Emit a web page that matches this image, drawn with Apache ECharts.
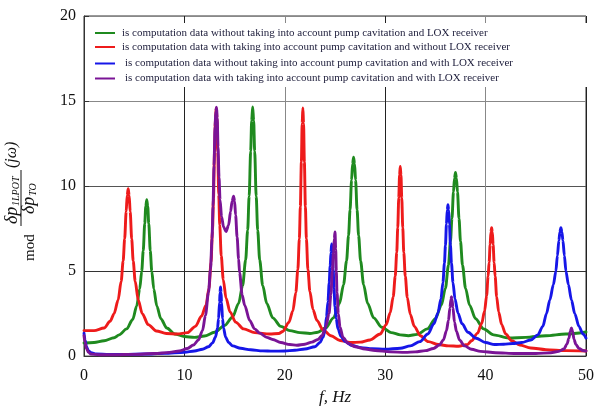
<!DOCTYPE html>
<html>
<head>
<meta charset="utf-8">
<script src="https://cdn.jsdelivr.net/npm/echarts@6/dist/echarts.min.js"></script>
<style>
  html, body { margin: 0; padding: 0; background: #ffffff; }
  #chart { width: 597px; height: 411px; }
</style>
</head>
<body>
<div id="chart"></div>
<script>
// Frequency response magnitudes, points given as [f (Hz), modulus]
const greenPts = [[0,0.77],[1,0.8],[2,0.9],[3,1.08],[3.5,1.25],[4.25,1.6],[4.85,2.15],[5.25,2.95],[5.55,3.95],[5.75,5.0],[5.9,6.2],[6.05,7.8],[6.15,8.8],[6.25,9.2],[6.35,8.8],[6.45,7.8],[6.6,6.2],[6.75,5.0],[6.95,3.95],[7.25,2.95],[7.65,2.2],[8.25,1.65],[9.05,1.3],[10,1.15],[11,1.1],[12,1.18],[13,1.4],[14,1.8],[14.8,2.3],[15.4,3.1],[15.8,4.15],[16.1,5.65],[16.3,7.4],[16.45,9.4],[16.6,12.05],[16.7,13.85],[16.8,14.65],[16.9,13.85],[17.0,12.05],[17.15,9.4],[17.3,7.4],[17.5,5.65],[17.8,4.15],[18.2,3.1],[18.8,2.25],[19.6,1.75],[20.5,1.5],[21.5,1.38],[22.5,1.33],[23.3,1.4],[24.05,1.65],[24.85,2.25],[25.45,3.1],[25.85,4.2],[26.15,5.6],[26.35,7.1],[26.5,8.6],[26.65,10.35],[26.75,11.3],[26.85,11.7],[26.95,11.3],[27.05,10.35],[27.2,8.6],[27.35,7.1],[27.55,5.6],[27.85,4.2],[28.25,3.1],[28.85,2.25],[29.65,1.7],[30.6,1.38],[31.5,1.25],[32.3,1.2],[33.2,1.28],[34.2,1.6],[35.0,2.2],[35.6,3.0],[36.0,4.0],[36.3,5.35],[36.5,6.75],[36.65,8.1],[36.8,9.65],[36.9,10.45],[37.0,10.8],[37.1,10.45],[37.2,9.65],[37.35,8.1],[37.5,6.75],[37.7,5.35],[38.0,4.0],[38.4,3.0],[39.0,2.2],[39.8,1.6],[40.8,1.25],[42.3,1.06],[44,1.1],[46,1.2],[48,1.3],[50,1.42]];

const redPts = [[0,1.5],[1,1.5],[2,1.65],[2.6,2.05],[3.0,2.5],[3.4,3.3],[3.7,4.4],[3.9,5.6],[4.05,6.9],[4.2,8.5],[4.3,9.45],[4.4,9.84],[4.5,9.45],[4.6,8.5],[4.75,6.9],[4.9,5.6],[5.1,4.4],[5.4,3.3],[5.8,2.5],[6.4,1.85],[7.2,1.48],[8.2,1.33],[9.3,1.3],[10.3,1.38],[11.1,1.75],[11.7,2.35],[12.15,3.0],[12.45,4.0],[12.65,5.5],[12.8,7.4],[12.9,9.3],[13.0,12.0],[13.1,14.0],[13.17,14.6],[13.24,14.0],[13.32,12.0],[13.42,9.5],[13.52,7.7],[13.67,5.9],[13.87,4.5],[14.15,3.4],[14.55,2.6],[15.1,2.0],[15.9,1.6],[17,1.38],[18.5,1.3],[19.4,1.33],[19.8,1.45],[20.4,1.98],[20.8,2.65],[21.1,3.75],[21.3,5.1],[21.45,6.9],[21.55,8.8],[21.65,11.4],[21.73,13.7],[21.8,14.6],[21.87,13.7],[21.95,11.4],[22.05,8.8],[22.15,6.9],[22.3,5.1],[22.5,3.8],[22.8,2.75],[23.2,2.1],[23.8,1.55],[24.6,1.2],[25.5,0.92],[26.5,0.8],[27.5,0.82],[28.5,0.95],[29.5,1.3],[30.1,1.85],[30.5,2.55],[30.8,3.5],[31.0,4.7],[31.15,6.1],[31.25,7.55],[31.35,9.3],[31.43,10.65],[31.5,11.15],[31.57,10.65],[31.65,9.3],[31.75,7.55],[31.85,6.1],[32.0,4.7],[32.2,3.45],[32.5,2.45],[32.9,1.75],[33.5,1.2],[34.3,0.85],[35.3,0.68],[36.3,0.6],[37.3,0.58],[38.2,0.68],[38.6,0.9],[39.2,1.35],[39.6,1.9],[39.9,2.65],[40.1,3.55],[40.25,4.7],[40.35,5.5],[40.45,6.55],[40.53,7.3],[40.6,7.55],[40.67,7.3],[40.75,6.55],[40.85,5.5],[40.95,4.7],[41.1,3.5],[41.3,2.6],[41.6,1.85],[42.0,1.3],[42.6,0.9],[43.4,0.65],[44.5,0.48],[46,0.38],[48,0.32],[50,0.3]];

const bluePts = [[0,1.35],[0.1,0.95],[0.25,0.55],[0.45,0.3],[0.7,0.2],[1.2,0.13],[2.5,0.1],[4,0.1],[6,0.12],[8,0.16],[10,0.23],[11,0.3],[11.8,0.4],[12.4,0.55],[12.8,0.78],[13.1,1.12],[13.3,1.65],[13.4,2.2],[13.5,3.15],[13.55,3.75],[13.6,4.07],[13.65,3.75],[13.7,3.15],[13.8,2.2],[13.9,1.65],[14.1,1.12],[14.4,0.8],[14.8,0.6],[15.6,0.46],[16.6,0.37],[17.8,0.31],[18.8,0.29],[20,0.3],[21,0.34],[22,0.42],[23,0.55],[23.5,0.8],[23.8,1.1],[24.0,1.5],[24.15,2.3],[24.3,3.2],[24.42,4.3],[24.52,5.3],[24.6,6.1],[24.67,6.59],[24.74,6.1],[24.82,5.1],[24.9,4.0],[25.0,2.9],[25.12,2.2],[25.3,1.6],[25.6,1.15],[26.0,0.85],[26.7,0.62],[27.6,0.5],[28.7,0.43],[30,0.4],[31.5,0.46],[32.5,0.6],[33.45,0.85],[34.25,1.3],[34.85,1.9],[35.25,2.53],[35.55,3.36],[35.75,4.33],[35.9,5.47],[36.0,6.5],[36.1,7.76],[36.18,8.6],[36.25,8.9],[36.32,8.6],[36.4,7.76],[36.5,6.5],[36.6,5.47],[36.75,4.33],[36.95,3.36],[37.25,2.53],[37.65,1.9],[38.25,1.4],[39.05,1.05],[40,0.8],[40.9,0.68],[41.8,0.7],[42.7,0.74],[43.6,0.8],[44.5,0.95],[45.2,1.25],[45.7,1.75],[46.06,2.5],[46.4,3.3],[46.75,4.2],[47.0,5.0],[47.15,5.9],[47.3,6.8],[47.4,7.3],[47.5,7.55],[47.6,7.3],[47.7,6.8],[47.85,5.9],[48.0,5.0],[48.25,4.2],[48.55,3.3],[48.88,2.5],[49.3,1.75],[49.7,1.3],[50,1.06]];

const purplePts = [[0,1.2],[0.1,0.8],[0.25,0.45],[0.45,0.22],[0.7,0.12],[1.5,0.08],[3,0.08],[5,0.1],[7,0.15],[8.5,0.22],[9.5,0.3],[10.3,0.45],[10.9,0.65],[11.4,0.95],[11.8,1.5],[12.1,2.4],[12.4,3.75],[12.6,5.1],[12.75,6.9],[12.85,8.8],[12.95,11.2],[13.05,13.5],[13.13,14.4],[13.2,14.63],[13.27,14.0],[13.35,12.3],[13.45,10.5],[13.55,9.2],[13.7,8.2],[13.9,7.6],[14.15,7.33],[14.4,7.7],[14.6,8.5],[14.75,9.1],[14.9,9.4],[15.0,9.1],[15.1,8.3],[15.25,7.0],[15.4,5.7],[15.5,4.9],[15.75,3.6],[16.0,3.0],[16.5,2.1],[17.0,1.6],[17.5,1.35],[18.2,1.1],[18.8,0.98],[19.6,0.8],[20.5,0.68],[21.2,0.64],[22,0.7],[22.7,0.82],[23.3,0.98],[23.7,1.2],[24.1,1.75],[24.4,2.5],[24.6,3.65],[24.73,5.0],[24.85,6.1],[24.93,6.9],[25.0,7.3],[25.07,6.3],[25.13,5.0],[25.2,3.75],[25.33,2.5],[25.5,1.7],[25.8,1.1],[26.3,0.75],[27,0.55],[28,0.42],[29,0.33],[30.5,0.25],[32,0.22],[33,0.25],[34,0.32],[34.8,0.45],[35.4,0.65],[35.8,0.95],[36.1,1.5],[36.3,2.1],[36.45,2.85],[36.55,3.35],[36.6,3.5],[36.65,3.35],[36.75,2.85],[36.9,2.0],[37.1,1.45],[37.4,0.95],[37.9,0.6],[38.6,0.4],[39.5,0.28],[41,0.2],[43,0.15],[45,0.15],[46.5,0.2],[47.3,0.28],[47.8,0.42],[48.1,0.7],[48.3,1.05],[48.43,1.45],[48.55,1.65],[48.67,1.45],[48.8,1.0],[49.0,0.68],[49.3,0.45],[49.7,0.33],[50,0.3]];

const seriesNames = [
  'is computation data without taking into account pump cavitation and LOX receiver',
  'is computation data with taking into account pump cavitation and without LOX receiver',
  'is computation data without taking into account pump cavitation and with LOX receiver',
  'is computation data with taking into account pump cavitation and with LOX receiver'
];
const seriesColors = ['#1f8a1f', '#ee1b1b', '#1616e8', '#7a1496'];
const seriesData = [greenPts, redPts, bluePts, purplePts];

const xRange = [0, 50, 10];
const yRange = [0, 20, 5];
const xTitle = 'f, Hz';

const SERIF = '"Liberation Serif", "DejaVu Serif", serif';
const chart = echarts.init(document.getElementById('chart'), null, { renderer: 'canvas' });

// rotated y-axis title: mod (δp_1LPOT / δp_TO)(jω)
function vtext(x, y, text, font) {
  return {
    type: 'text', x: x, y: y, rotation: Math.PI / 2, z: 5,
    style: { text: text, font: font, fill: '#111', align: 'left', verticalAlign: 'middle',
             textAlign: 'left', textVerticalAlign: 'middle' }
  };
}
const yTitle = [
  vtext(30, 261, 'mod', '15px ' + SERIF),
  { type: 'line', z: 5, shape: { x1: 21, y1: 226, x2: 21, y2: 170 }, style: { stroke: '#111', lineWidth: 1 } },
  vtext(12, 224, 'δp', 'italic 18px ' + SERIF),
  vtext(16, 206, '1LPOT', 'italic 10px ' + SERIF),
  vtext(29, 214, 'δp', 'italic 18px ' + SERIF),
  vtext(33, 196, 'TO', 'italic 10px ' + SERIF),
  vtext(12, 168, '(jω)', 'italic 16px ' + SERIF)
];

const legendBase = {
  orient: 'vertical', left: 95, padding: 0, itemGap: 0,
  itemWidth: 20, itemHeight: 2, icon: 'rect',
  textStyle: { fontFamily: SERIF, fontSize: 11, color: '#1c1c3a' }
};

chart.setOption({
  backgroundColor: '#ffffff',
  animation: false,
  grid: { left: 84, right: 9, top: 16, bottom: 51, show: true, borderColor: '#333', borderWidth: 1 },
  legend: [
    Object.assign({}, legendBase, { top: 26, data: seriesNames.slice(0, 2),
      textStyle: Object.assign({}, legendBase.textStyle, { lineHeight: 14, padding: [0, 0, 0, 2] }) }),
    Object.assign({}, legendBase, { top: 56, data: seriesNames.slice(2, 4),
      textStyle: Object.assign({}, legendBase.textStyle, { lineHeight: 15, padding: [0, 0, 0, 5] }) })
  ],
  graphic: [
    { type: 'rect', z: 3, shape: { x: 85, y: 23, width: 502, height: 64 }, style: { fill: '#ffffff' } }
  ].concat(yTitle),
  xAxis: {
    type: 'value', min: xRange[0], max: xRange[1], interval: xRange[2],
    name: xTitle, nameLocation: 'middle', nameGap: 29,
    nameTextStyle: { fontFamily: SERIF, fontStyle: 'italic', fontSize: 17, color: '#111' },
    axisLine: { show: true, lineStyle: { color: '#333', width: 1 } },
    axisTick: { show: false },
    axisLabel: { fontFamily: SERIF, fontSize: 16, color: '#111', margin: 12 },
    splitLine: { show: true, lineStyle: { color: ['#888', '#222'], width: 1 } }
  },
  yAxis: {
    type: 'value', min: yRange[0], max: yRange[1], interval: yRange[2],
    axisLine: { show: true, lineStyle: { color: '#333', width: 1 } },
    axisTick: { show: true, inside: true, length: 5, lineStyle: { color: '#333' } },
    axisLabel: { fontFamily: SERIF, fontSize: 16, color: '#111', margin: 8 },
    splitLine: { show: true, lineStyle: { color: ['#888', '#333', '#555', '#888', '#888'], width: 1 } }
  },
  series: seriesData.map(function (pts, i) {
    return {
      name: seriesNames[i], type: 'line', data: pts,
      showSymbol: false, symbol: 'none', smooth: 0.3, smoothMonotone: 'x', z: 2 + i,
      lineStyle: { color: seriesColors[i], width: 2.9, join: 'round', cap: 'round' },
      itemStyle: { color: seriesColors[i] }
    };
  })
});
</script>
</body>
</html>
